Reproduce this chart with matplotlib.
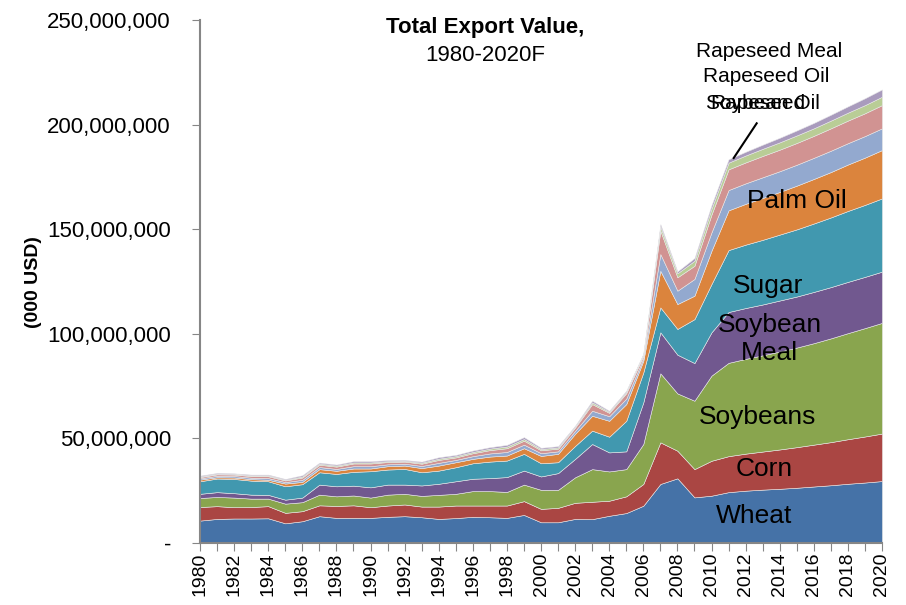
import matplotlib
matplotlib.use("Agg")
import matplotlib.pyplot as plt
from matplotlib.ticker import FuncFormatter, MultipleLocator

plt.rcParams['font.family'] = ['Liberation Sans', 'DejaVu Sans']

years = list(range(1980, 2021))

# export value, million (000 USD shown on axis)
wheat = [10.7, 11.5, 11.7, 11.7, 11.8, 9.4, 10.4, 12.8, 12.0, 12.0,
         12.0, 12.5, 12.8, 12.3, 11.5, 11.9, 12.5, 12.3, 12.0, 13.4,
         9.9, 9.9, 11.5, 11.4, 13.0, 14.3, 17.8, 28.2, 30.9, 21.8,
         22.6, 24.3, 25.0, 25.5, 25.9, 26.4, 27.0, 27.6, 28.3, 28.9,
         29.6]
corn = [6.5, 6.1, 5.4, 5.5, 5.8, 5.0, 4.8, 5.2, 5.7, 6.0,
        5.1, 5.4, 5.6, 5.1, 5.9, 6.0, 5.4, 5.6, 5.9, 6.6,
        6.4, 6.9, 7.7, 8.3, 7.2, 8.0, 10.4, 19.9, 13.2, 13.5,
        16.7, 17.2, 17.7, 18.2, 18.8, 19.4, 20.0, 20.6, 21.3, 22.0,
        22.7]
soybeans = [4.3, 4.4, 4.6, 4.0, 3.6, 4.4, 4.3, 5.1, 4.6, 4.7,
            4.6, 5.2, 5.1, 5.1, 5.6, 5.6, 6.9, 6.9, 6.5, 7.9,
            9.1, 8.6, 12.2, 15.6, 14.0, 13.0, 19.1, 33.0, 27.4, 32.7,
            40.7, 44.6, 45.3, 46.0, 46.8, 47.6, 48.5, 49.6, 50.7, 51.8,
            52.9]
soy_meal = [2.0, 2.3, 2.1, 1.9, 1.8, 1.9, 2.2, 4.8, 4.8, 4.7,
            4.9, 4.8, 4.4, 5.0, 5.3, 6.0, 5.9, 6.2, 7.1, 6.7,
            6.4, 8.0, 8.8, 12.0, 9.1, 8.5, 19.9, 19.6, 18.5, 18.0,
            20.7, 24.3, 24.3, 24.3, 24.4, 24.4, 24.5, 24.5, 24.5, 24.5,
            24.5]
sugar = [6.0, 6.5, 6.8, 6.7, 6.5, 6.4, 6.4, 5.9, 5.9, 6.6,
         7.7, 7.2, 7.5, 6.3, 6.3, 6.7, 7.4, 7.9, 7.9, 8.0,
         6.3, 5.2, 6.2, 6.4, 7.5, 14.6, 14.3, 11.9, 12.3, 21.0,
         23.1, 29.6, 30.3, 30.9, 31.5, 32.1, 32.7, 33.3, 33.9, 34.4,
         35.0]
palm_oil = [0.8, 0.6, 0.7, 0.7, 0.7, 1.3, 1.1, 1.5, 1.5, 1.6,
            1.3, 1.6, 1.6, 2.0, 2.4, 2.4, 2.1, 2.4, 2.4, 2.7,
            3.5, 4.0, 5.8, 7.1, 7.6, 8.0, 5.6, 17.5, 11.9, 11.2,
            15.9, 19.0, 19.5, 20.0, 20.4, 20.9, 21.3, 21.7, 22.2, 22.6,
            23.1]
soy_oil = [0.6, 0.7, 0.7, 0.7, 0.8, 0.7, 1.0, 1.0, 0.9, 1.1,
           1.1, 0.9, 0.9, 1.0, 1.3, 1.1, 1.3, 1.5, 1.7, 1.7,
           1.3, 1.2, 1.4, 2.4, 2.2, 2.6, 1.2, 8.0, 6.4, 8.0,
           8.8, 9.7, 9.8, 9.9, 9.9, 10.0, 10.1, 10.2, 10.2, 10.3,
           10.4]
rapeseed = [0.6, 0.7, 0.7, 0.8, 0.9, 0.8, 1.1, 1.1, 1.1, 1.3,
            1.3, 1.1, 1.0, 1.1, 1.4, 1.2, 1.4, 1.6, 1.8, 1.9,
            1.4, 1.3, 1.6, 3.2, 1.6, 2.6, 1.2, 11.2, 6.4, 6.3,
            8.5, 9.9, 10.0, 10.2, 10.3, 10.4, 10.5, 10.7, 10.8, 10.9,
            11.1]
rape_oil = [0.3, 0.3, 0.3, 0.3, 0.4, 0.3, 0.5, 0.5, 0.5, 0.5,
            0.5, 0.4, 0.4, 0.5, 0.6, 0.6, 0.6, 0.7, 0.8, 0.8,
            0.6, 0.6, 0.4, 0.8, 0.5, 0.6, 0.5, 1.9, 1.9, 2.4,
            2.8, 3.2, 3.3, 3.4, 3.5, 3.6, 3.6, 3.7, 3.8, 3.9,
            4.0]
rape_meal = [0.4, 0.4, 0.3, 0.4, 0.4, 0.4, 0.6, 0.5, 0.5, 0.6,
             0.6, 0.5, 0.4, 0.5, 0.7, 0.6, 0.7, 0.7, 0.8, 0.9,
             0.6, 0.6, 0.5, 0.8, 0.5, 0.6, 0.5, 1.2, 0.9, 1.3,
             1.7, 1.6, 1.8, 2.0, 2.2, 2.4, 2.6, 2.8, 3.0, 3.3,
             3.5]

series = [wheat, corn, soybeans, soy_meal, sugar, palm_oil,
          soy_oil, rapeseed, rape_oil, rape_meal]
colors = ['#4572A7', '#AA4643', '#89A54E', '#71588F', '#4198AF',
          '#DB843D', '#93A9CF', '#D19392', '#B9CD96', '#A99BBD']

fig = plt.figure(figsize=(9.06, 6.05), dpi=100)
ax = fig.add_axes([0.2208, 0.1025, 0.7527, 0.8645])

ax.stackplot(years, series, colors=colors, edgecolor='#e8e8e8', linewidth=0.4)

ax.set_xlim(1980, 2020)
ax.set_ylim(0, 250)
ax.yaxis.set_major_locator(MultipleLocator(50))
ax.yaxis.set_major_formatter(FuncFormatter(
    lambda v, p: '-' if v == 0 else f"{int(round(v * 1e6)):,}"))
ax.set_xticks(years)
ax.set_xticklabels([str(y) if y % 2 == 0 else '' for y in years], rotation=90)
ax.tick_params(axis='y', labelsize=16, length=6, color='#868686', pad=15)
ax.tick_params(axis='x', labelsize=14, length=6, color='#868686', pad=1)

for s in ['top', 'right']:
    ax.spines[s].set_visible(False)
for s in ['left', 'bottom']:
    ax.spines[s].set_color('#868686')
    ax.spines[s].set_linewidth(1.5)

# in-chart labels
big = 19
ax.text(2012.5, 12.9, 'Wheat', fontsize=big, ha='center', va='center')
ax.text(2013.1, 35.4, 'Corn', fontsize=big, ha='center', va='center')
ax.text(2012.7, 60.2, 'Soybeans', fontsize=big, ha='center', va='center')
ax.text(2013.4, 97.5, 'Soybean\nMeal', fontsize=big, ha='center', va='center',
        linespacing=1.25)
ax.text(2013.3, 122.8, 'Sugar', fontsize=big, ha='center', va='center')
ax.text(2015.0, 163.5, 'Palm Oil', fontsize=big, ha='center', va='center')

small = 15
ax.text(2013.4, 234.7, 'Rapeseed Meal', fontsize=small, ha='center', va='center')
ax.text(2013.2, 223.2, 'Rapeseed Oil', fontsize=small, ha='center', va='center')
ax.text(2013.0, 210.3, 'Soybean Oil', fontsize=small, ha='center', va='center')
ax.text(2012.7, 210.3, 'Rapeseed', fontsize=small, ha='center', va='center')
ax.plot([2012.65, 2011.3], [200.6, 184.0], color='black', lw=1.5, clip_on=False)

fig.text(0.536, 0.955, 'Total Export Value,', fontsize=16, fontweight='bold',
         ha='center', va='center')
fig.text(0.536, 0.909, '1980-2020F', fontsize=16, ha='center', va='center')
fig.text(0.037, 0.534, '(000 USD)', fontsize=14, fontweight='bold',
         rotation=90, ha='center', va='center')

fig.savefig('out.png', dpi=100)
